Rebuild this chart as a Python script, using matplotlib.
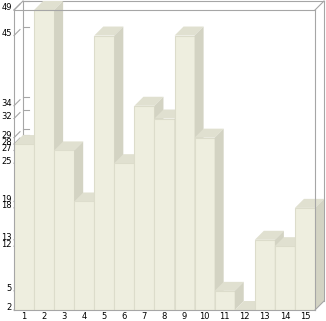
import matplotlib
matplotlib.use("Agg")
import matplotlib.pyplot as plt
from matplotlib.patches import Polygon
from matplotlib.lines import Line2D
from matplotlib.transforms import IdentityTransform

# data
bars = list(range(1, 16))
values = [28, 49, 27, 19, 45, 25, 34, 32, 45, 29, 5, 2, 13, 12, 18]
y_ticks = sorted(set(values))
y_min, y_max = 2, 49

W, H = 326, 321
D = 9  # depth of the fake 3d, in pixels
front_c = "#eeeedf"
top_c = "#e0e0d0"
side_c = "#d3d3c3"
edge_c = "#dcdccb"
box_c = "#a6a6a6"

fig = plt.figure(figsize=(W / 100, H / 100), dpi=100)
ax = fig.add_axes([14 / W, (H - 310) / H, 301 / W, 300 / H])
ax.set_xlim(0.5, 15.5)
ax.set_ylim(y_min, y_max)
ax.axis("off")

ident = IdentityTransform()


def px(x, y):
    return ax.transData.transform((x, y))


def poly(pts, color, z, ec="none"):
    ax.add_patch(Polygon(pts, closed=True, facecolor=color, edgecolor=ec,
                         linewidth=0.6, transform=ident, clip_on=False, zorder=z))


def line(p, q, z, color=box_c):
    ax.add_line(Line2D([p[0], q[0]], [p[1], q[1]], color=color, lw=0.8,
                       transform=ident, clip_on=False, zorder=z))


(x0, yb) = px(0.5, y_min)
(x1, yt) = px(15.5, y_max)

# back plane box
line((x0 + D, yb + D), (x0 + D, yt + D), 1)
line((x0 + D, yt + D), (x1 + D, yt + D), 1)
line((x1 + D, yb + D), (x1 + D, yt + D), 1)

# ticks on the back wall and small diagonals
for v in y_ticks:
    _, yv = px(0.5, v)
    line((x0 + D, yv + D), (x0 + D + 6, yv + D), 1)
    line((x0, yv), (x0 + 6, yv + 6), 1)
    ax.text(x0 - 2, yv + 2, str(v), transform=ident, ha="right", va="center",
            fontsize=6, color="black")

# bars, drawn left to right so each covers the side of the previous one
rects = ax.bar(bars, [v - y_min for v in values], bottom=y_min, width=1,
               color=front_c, edgecolor=edge_c, linewidth=0.8)
for i, (b, v) in enumerate(zip(bars, values)):
    z = 2 + i * 0.1
    rects[i].set_zorder(z)
    (l, bot) = px(b - 0.5, y_min)
    (r, top) = px(b + 0.5, v)
    poly([(l, top), (r, top), (r + D, top + D), (l + D, top + D)], top_c, z + 0.01)
    poly([(r, bot), (r + D, bot + D), (r + D, top + D), (r, top)], side_c, z + 0.02)
    ax.text((l + r) / 2, H - 316.5, str(b), transform=ident, ha="center",
            va="center", fontsize=6, color="black")

# front box and corners
zf = 10
line((x0, yb), (x1, yb), zf)
line((x0, yb), (x0, yt), zf)
line((x0, yt), (x1, yt), zf)
line((x1, yb), (x1, yt), zf)
line((x0, yt), (x0 + D, yt + D), zf)
line((x1, yt), (x1 + D, yt + D), zf)
line((x1, yb), (x1 + D, yb + D), zf)

fig.savefig("out.png", dpi=100)
